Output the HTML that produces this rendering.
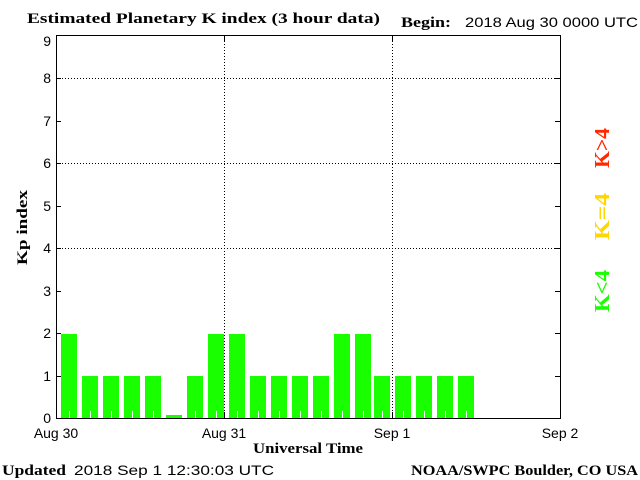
<!DOCTYPE html>
<html><head><meta charset="utf-8"><style>
html,body{margin:0;padding:0;background:#fff;width:640px;height:480px;overflow:hidden}
</style></head><body>
<svg width="640" height="480" xmlns="http://www.w3.org/2000/svg">
<rect width="640" height="480" fill="#fff"/>
<g font-family="Liberation Serif, serif" font-weight="bold" font-size="15" fill="#000">
<text x="27" y="23" textLength="353" lengthAdjust="spacingAndGlyphs">Estimated Planetary K index (3 hour data)</text>
<text x="401" y="27" textLength="50" lengthAdjust="spacingAndGlyphs">Begin:</text>
<text x="253" y="453" textLength="110" lengthAdjust="spacingAndGlyphs">Universal Time</text>
<text x="2" y="475" textLength="64" lengthAdjust="spacingAndGlyphs">Updated</text>
<text x="411" y="475" textLength="227" lengthAdjust="spacingAndGlyphs">NOAA/SWPC Boulder, CO USA</text>
<text transform="translate(27,265) rotate(-90)" textLength="75" lengthAdjust="spacingAndGlyphs">Kp index</text>
</g>
<g font-family="Liberation Sans, sans-serif" font-size="14" fill="#000">
<text x="465" y="27" textLength="173" lengthAdjust="spacingAndGlyphs">2018 Aug 30 0000 UTC</text>
<text x="74" y="475" textLength="200" lengthAdjust="spacingAndGlyphs">2018 Sep  1 12:30:03 UTC</text>
<text x="56" y="438" text-anchor="middle">Aug 30</text>
<text x="224" y="438" text-anchor="middle">Aug 31</text>
<text x="392" y="438" text-anchor="middle">Sep 1</text>
<text x="560" y="438" text-anchor="middle">Sep 2</text>
<g text-anchor="end">
<text x="51" y="423">0</text><text x="51" y="381">1</text><text x="51" y="338">2</text>
<text x="51" y="296">3</text><text x="51" y="253">4</text><text x="51" y="211">5</text>
<text x="51" y="168">6</text><text x="51" y="126">7</text><text x="51" y="83">8</text>
<text x="51" y="46">9</text>
</g>
</g>
<g stroke="#000" stroke-width="1" stroke-dasharray="1,2">
<line x1="56" y1="78.5" x2="560" y2="78.5"/>
<line x1="56" y1="163.5" x2="560" y2="163.5"/>
<line x1="56" y1="248.5" x2="560" y2="248.5"/>
<line x1="224.5" y1="35" x2="224.5" y2="418"/>
<line x1="392.5" y1="35" x2="392.5" y2="418"/>
</g>
<g fill="#1aff00">
<rect x="61" y="334" width="16" height="85"/>
<rect x="82" y="376" width="16" height="43"/>
<rect x="103" y="376" width="16" height="43"/>
<rect x="124" y="376" width="16" height="43"/>
<rect x="145" y="376" width="16" height="43"/>
<rect x="166" y="415" width="16" height="4"/>
<rect x="187" y="376" width="16" height="43"/>
<rect x="208" y="334" width="16" height="85"/>
<rect x="229" y="334" width="16" height="85"/>
<rect x="250" y="376" width="16" height="43"/>
<rect x="271" y="376" width="16" height="43"/>
<rect x="292" y="376" width="16" height="43"/>
<rect x="313" y="376" width="16" height="43"/>
<rect x="334" y="334" width="16" height="85"/>
<rect x="355" y="334" width="16" height="85"/>
<rect x="374" y="376" width="16" height="43"/>
<rect x="395" y="376" width="16" height="43"/>
<rect x="416" y="376" width="16" height="43"/>
<rect x="437" y="376" width="16" height="43"/>
<rect x="458" y="376" width="16" height="43"/>
</g>
<path d="M69.5,411v7 M90.5,411v7 M111.5,411v7 M132.5,411v7 M153.5,411v7 M195.5,411v7 M216.5,411v7 M237.5,411v7 M258.5,411v7 M279.5,411v7 M300.5,411v7 M321.5,411v7 M342.5,411v7 M363.5,411v7 M382.5,411v7 M403.5,411v7 M424.5,411v7 M445.5,411v7 M466.5,411v7" stroke="#fff"/>
<path d="M56.5,35 V418.5 H560.5 V35 M56,35.5 H560 M56,78.5 h5 M56,121.5 h5 M56,163.5 h5 M56,206.5 h5 M56,248.5 h5 M56,291.5 h5 M56,333.5 h5 M56,376.5 h5 M560,78.5 h-5 M560,121.5 h-5 M560,163.5 h-5 M560,206.5 h-5 M560,248.5 h-5 M560,291.5 h-5 M560,333.5 h-5 M560,376.5 h-5 M224.5,35 v6 M392.5,35 v6 M224.5,418 v-6 M392.5,418 v-6" stroke="#000" fill="none"/>
<g font-family="Liberation Serif, serif" font-size="21" font-weight="bold">
<text transform="translate(609,168) rotate(-90)" fill="#ff2a00" textLength="40" lengthAdjust="spacingAndGlyphs">K&gt;4</text>
<text transform="translate(609,240) rotate(-90)" fill="#ffd700" textLength="47" lengthAdjust="spacingAndGlyphs">K=4</text>
<text transform="translate(609,312) rotate(-90)" fill="#1aff00" textLength="42" lengthAdjust="spacingAndGlyphs">K&lt;4</text>
</g>
</svg>
</body></html>
